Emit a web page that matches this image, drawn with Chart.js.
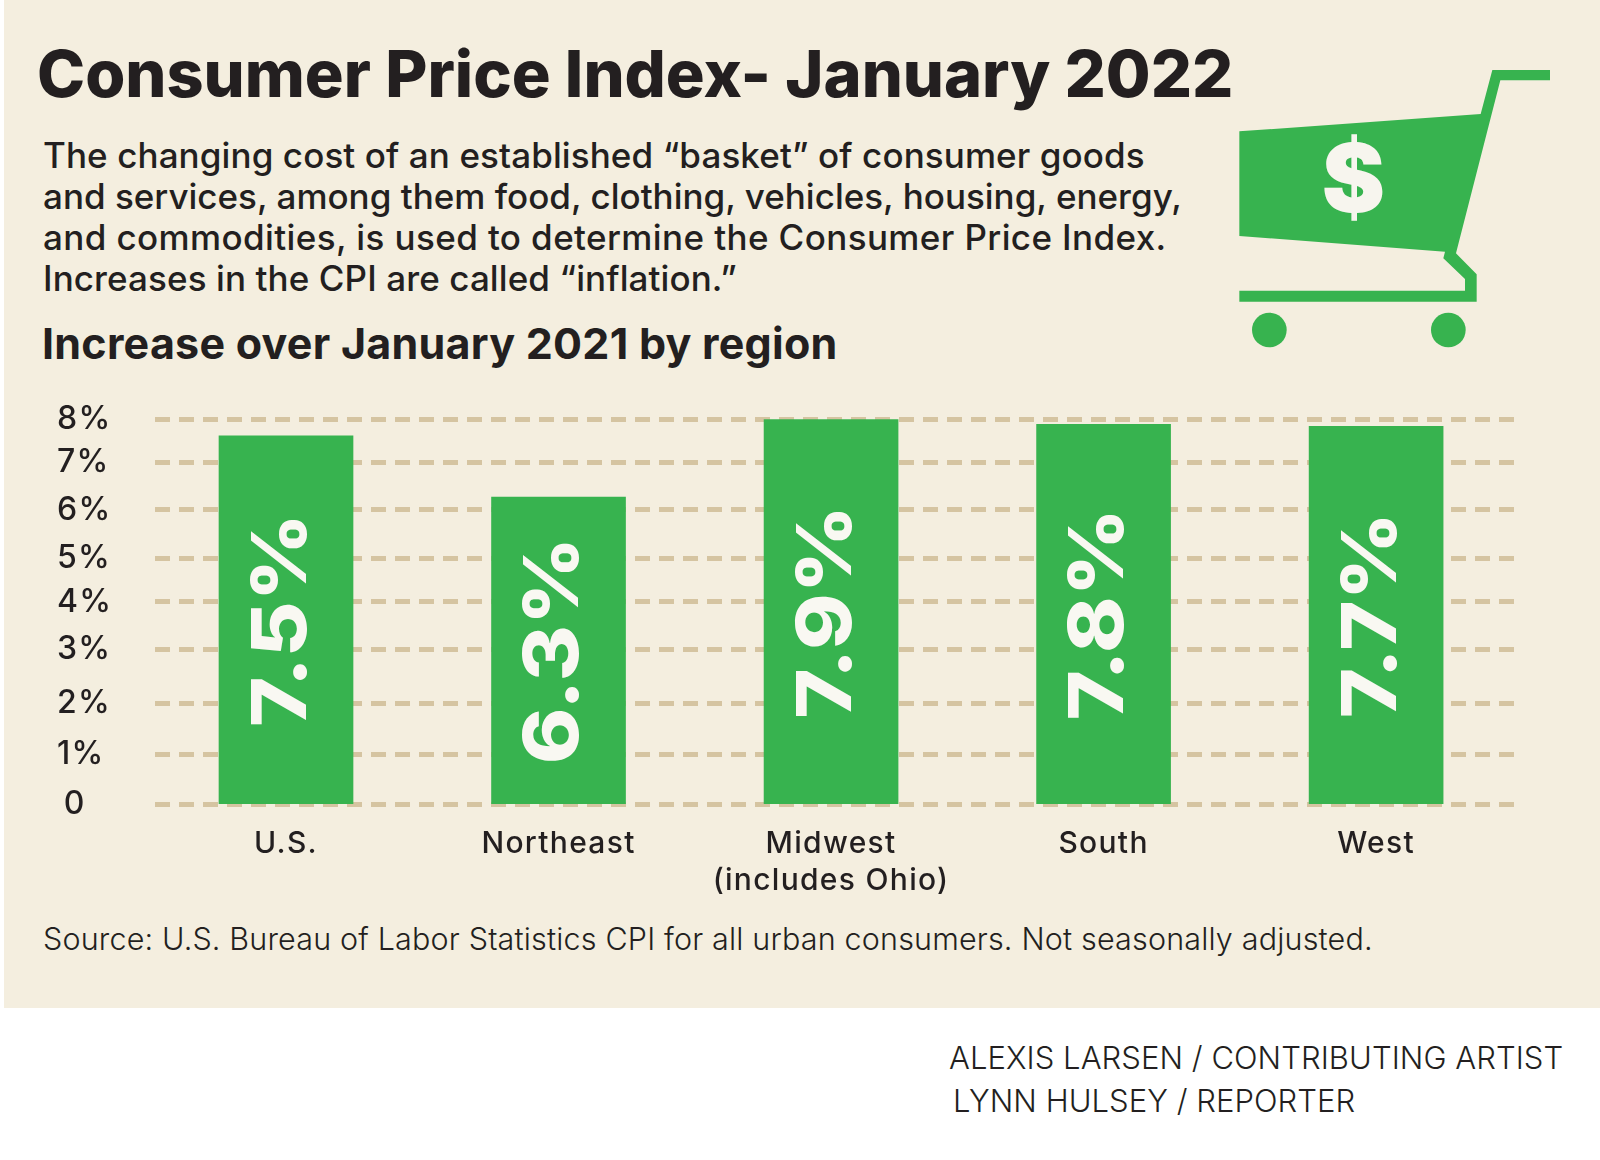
<!DOCTYPE html>
<html>
<head>
<meta charset="utf-8">
<title>Consumer Price Index- January 2022</title>
<script src="https://cdn.jsdelivr.net/npm/chart.js@4"></script>
<style>
  html, body { margin: 0; padding: 0; background: #fff; }
  #page { position: relative; width: 1600px; height: 1160px; overflow: hidden; color: #231f20; font-family: Inter, sans-serif; }
  #panel { position: absolute; left: 4px; top: 0; width: 1596px; height: 1008px; background: #f4eedf; }
  .txt { position: absolute; white-space: nowrap; }
  #title { left: 37px; top: 35px; font-size: 64.8px; line-height: 78px; font-weight: 800; }
  #intro { left: 43px; top: 135px; font-size: 35px; line-height: 41px; font-weight: 500; }
  #heading { left: 42px; top: 318px; font-size: 43px; line-height: 50px; font-weight: 700; letter-spacing: 0.25px; }
  #source { left: 43px; top: 920px; font-size: 30.5px; line-height: 38px; font-weight: 300; letter-spacing: 0.17px; }
  #credit { left: 949px; top: 1036px; font-size: 31px; line-height: 43px; font-weight: 300; letter-spacing: 0.05px; }
  #chartBox { position: absolute; left: 0; top: 380px; width: 1600px; height: 540px; }
  #cart { position: absolute; left: 1200px; top: 40px; width: 400px; height: 340px; }
</style>
</head>
<body>
<div id="page">
  <div id="panel"></div>
  <div class="txt" id="title">Consumer Price Index- January 2022</div>
  <div class="txt" id="intro"><span style="letter-spacing:.1px">The changing cost of an established “basket” of consumer goods</span><br>and services, among them food, clothing, vehicles, housing, energy,<br><span style="letter-spacing:.39px">and commodities, is used to determine the Consumer Price Index.</span><br><span style="letter-spacing:.1px">Increases in the CPI are called “inflation.”</span></div>
  <div class="txt" id="heading">Increase over January 2021 by region</div>
  <div id="chartBox"><canvas id="cpi-chart" width="1600" height="540"></canvas></div>
  <div class="txt" id="source">Source: U.S. Bureau of Labor Statistics CPI for all urban consumers. Not seasonally adjusted.</div>
  <div class="txt" id="credit">ALEXIS LARSEN / CONTRIBUTING ARTIST<br><span style="margin-left:4px">LYNN HULSEY / REPORTER</span></div>
  <svg id="cart" viewBox="0 0 1200 1020">
    <g fill="#37b34f">
      <polygon points="118,274 842,222 877,90 1050,90 1050,121 901,121 768,640 830,703 830,785 118,785 118,752 795,752 795,717 730,655 735,635 118,588"/>
      <circle cx="208" cy="870" r="52"/>
      <circle cx="745" cy="870" r="52"/>
    </g>
    <text x="460" y="515" text-anchor="middle" font-family="Inter" font-weight="900" font-size="285" fill="#f7f5ee">$</text>
  </svg>
</div>

<script>
const regions = ["U.S.", "Northeast", ["Midwest", "(includes Ohio)"], "South", "West"];
const printedValues = ["7.5%", "6.3%", "7.9%", "7.8%", "7.7%"];
// bar tops as drawn, read against the 0-8 axis (the artwork is not quite to scale)
const barHeights = [7.65, 6.38, 7.99, 7.89, 7.85];
// the gridlines in the artwork are not evenly spaced either
const gridValues = [0, 1.03, 2.09, 3.21, 4.2, 5.1, 6.11, 7.09, 8];
const gridLabels = ["\u20090", "1%", "2%", "3%", "4%", "5%", "6%", "7%", "8%"];

const GREEN = "#37b34f";
const INK = "#231f20";

const barLabelPlugin = {
  id: "barLabels",
  // the artwork's typeface runs wider than Inter
  beforeDraw(chart) {
    chart.ctx.letterSpacing = "1.3px";
  },
  // white value written up the middle of each bar
  afterDatasetsDraw(chart) {
    const ctx = chart.ctx;
    chart.getDatasetMeta(0).data.forEach((bar, i) => {
      ctx.save();
      ctx.translate(bar.x - 3, (bar.y + bar.base) / 2);
      ctx.rotate(-Math.PI / 2);
      ctx.scale(1.13, 1);
      ctx.font = "800 76px Inter";
      ctx.letterSpacing = "0px";
      ctx.fillStyle = "#f9f8f2";
      ctx.textAlign = "center";
      ctx.textBaseline = "middle";
      ctx.fillText(printedValues[i], 0, 0);
      ctx.restore();
    });
  }
};

new Chart("cpi-chart", {
  type: "bar",
  plugins: [barLabelPlugin],
  data: {
    labels: regions,
    datasets: [{
      data: barHeights.map((h, i) => ({ x: i, y: h })),
      backgroundColor: GREEN,
      barThickness: 134,
      // a base of exactly 0 makes Chart.js lift the bar above the thick gridline
      base: -0.0001
    }]
  },
  options: {
    responsive: false,
    animation: false,
    layout: { padding: { left: 57, right: 80, top: 39, bottom: 0 } },
    plugins: { legend: { display: false }, tooltip: { enabled: false } },
    scales: {
      x: {
        type: "linear",
        offset: false,
        min: -0.4807,
        max: 4.528,
        afterBuildTicks: (axis) => { axis.ticks = regions.map((r, i) => ({ value: i })); },
        afterFit: (axis) => { axis.height = 116; },
        grid: { display: false },
        border: { display: false },
        ticks: {
          autoSkip: false,
          maxRotation: 0,
          padding: 14,
          color: INK,
          font: { family: "Inter", size: 30, weight: "500", lineHeight: 1.22 },
          callback: (value, i) => regions[i]
        }
      },
      y: {
        min: 0,
        max: 8,
        afterBuildTicks: (axis) => { axis.ticks = gridValues.map((v) => ({ value: v })); },
        afterFit: (axis) => { axis.width = 98; },
        grid: { color: "#d5c4a1", lineWidth: 5, drawTicks: false },
        border: { display: false, dash: [15, 9] },
        ticks: {
          autoSkip: false,
          crossAlign: "far",
          color: INK,
          font: { family: "Inter", size: 32, weight: "500" },
          callback: (value, i) => gridLabels[i]
        }
      }
    }
  }
});
</script>
</body>
</html>
